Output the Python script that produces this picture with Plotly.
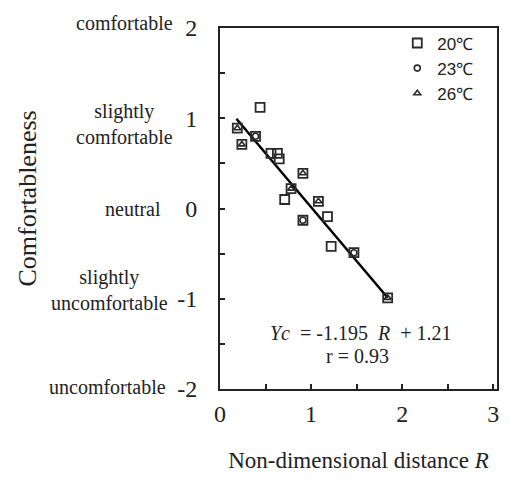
import plotly.graph_objects as go

# data
r_20 = [0.19, 0.24, 0.39, 0.44, 0.56, 0.63, 0.65, 0.71, 0.78, 0.91, 0.91, 1.08, 1.18, 1.22, 1.47, 1.84]
c_20 = [0.89, 0.71, 0.80, 1.12, 0.61, 0.61, 0.55, 0.10, 0.22, 0.39, -0.13, 0.08, -0.09, -0.42, -0.49, -0.99]
r_23 = [0.39, 0.91, 1.47]
c_23 = [0.80, -0.13, -0.49]
r_26 = [0.19, 0.24, 0.78, 0.91, 1.08, 1.84]
c_26 = [0.89, 0.71, 0.22, 0.39, 0.08, -0.99]

slope = -1.195
intercept = 1.21
fit_r = [0.18, 1.84]
fit_c = [slope * r + intercept for r in fit_r]

x_ticks = [0, 1, 2, 3]
y_ticks = [2, 1, 0, -1, -2]
y_tick_text = ["2", "1", "0", "-1", "-2"]
y_desc = ["comfortable", "slightly<br>comfortable", "neutral", "slightly<br>uncomfortable", "uncomfortable"]

serif = "Liberation Serif, Times New Roman, serif"
sans = "Liberation Sans, Arial, sans-serif"
mk = "#2a2a2a"

fig = go.Figure()
fig.add_trace(go.Scatter(x=fit_r, y=fit_c, mode="lines", line=dict(color="black", width=2.5),
                         showlegend=False, hoverinfo="skip"))
fig.add_trace(go.Scatter(x=r_20, y=c_20, mode="markers", name="20℃", legendgroup="a",
                         marker=dict(symbol="square-open", size=9, color=mk, line=dict(width=1.8))))
fig.add_trace(go.Scatter(x=r_23, y=c_23, mode="markers", name="23℃", legendgroup="b",
                         marker=dict(symbol="circle-open", size=6, color=mk, line=dict(width=1.6))))
fig.add_trace(go.Scatter(x=r_26, y=c_26, mode="markers", name="26℃", legendgroup="c",
                         marker=dict(symbol="triangle-up-open", size=6, color=mk, line=dict(width=1.6))))

fig.update_layout(
    width=509, height=495,
    margin=dict(l=220, r=12, t=28, b=106, autoexpand=False),
    paper_bgcolor="white", plot_bgcolor="white",
    showlegend=True,
    legend=dict(x=0.64, y=1.007, xanchor="left", yanchor="top", bgcolor="rgba(0,0,0,0)",
                font=dict(family=sans, size=17, color="#222"), tracegroupgap=0,
                traceorder="grouped", itemwidth=30),
    font=dict(family=serif, color="#222"),
)
fig.update_xaxes(range=[0, 3.04], tickvals=x_ticks, ticktext=[str(v) for v in x_ticks],
                 ticks="inside", ticklen=5, tickwidth=1.5, tickcolor="#222",
                 minor=dict(dtick=0.5, ticks="inside", ticklen=5, tickwidth=1.5, tickcolor="#222"),
                 showline=True, mirror=True, linecolor="#222", linewidth=2, showgrid=False,
                 zeroline=False, tickfont=dict(family=serif, size=24), ticklabelstandoff=2,
                 automargin=False,
                 title=dict(text="Non-dimensional distance <i>R</i>", font=dict(family=serif, size=23),
                            standoff=26))
fig.update_yaxes(range=[-2, 2], tickvals=y_ticks, ticktext=y_tick_text,
                 ticks="inside", ticklen=5, tickwidth=1.5, tickcolor="#222",
                 minor=dict(dtick=0.5, ticks="inside", ticklen=5, tickwidth=1.5, tickcolor="#222"),
                 showline=True, mirror=True, linecolor="#222", linewidth=2, showgrid=False,
                 zeroline=False, tickfont=dict(family=serif, size=24), ticklabelstandoff=16,
                 automargin=False)

# descriptive labels (paper y: 0 = bottom of frame, 1 = top)
desc_y = [1.014, 0.734, 0.5, 0.274, 0.0055]
desc_shift = [-45, -45, -57, -50, -52]
for txt, yy, xs in zip(y_desc, desc_y, desc_shift):
    fig.add_annotation(text=txt, x=0, xref="paper", y=yy, yref="paper", xanchor="right",
                       yanchor="middle", xshift=xs, showarrow=False,
                       font=dict(family=serif, size=20, color="#222"), align="center")

fig.add_annotation(text="Comfortableness", textangle=-90, x=0, xref="paper", xshift=-193,
                   xanchor="center", y=0.5, yref="paper", yanchor="middle", yshift=10,
                   showarrow=False, font=dict(family=serif, size=26, color="#222"))
fig.add_annotation(text="<i>Yc</i>  = -1.195  <i>R</i>  + 1.21", x=1.54, y=-1.38, showarrow=False,
                   font=dict(family=serif, size=20, color="#222"))
fig.add_annotation(text="r = 0.93", x=1.51, y=-1.63, showarrow=False,
                   font=dict(family=serif, size=20, color="#222"))

fig.write_html("out.html", config={"displayModeBar": False},
               post_script="document.body.style.margin='0px';")
